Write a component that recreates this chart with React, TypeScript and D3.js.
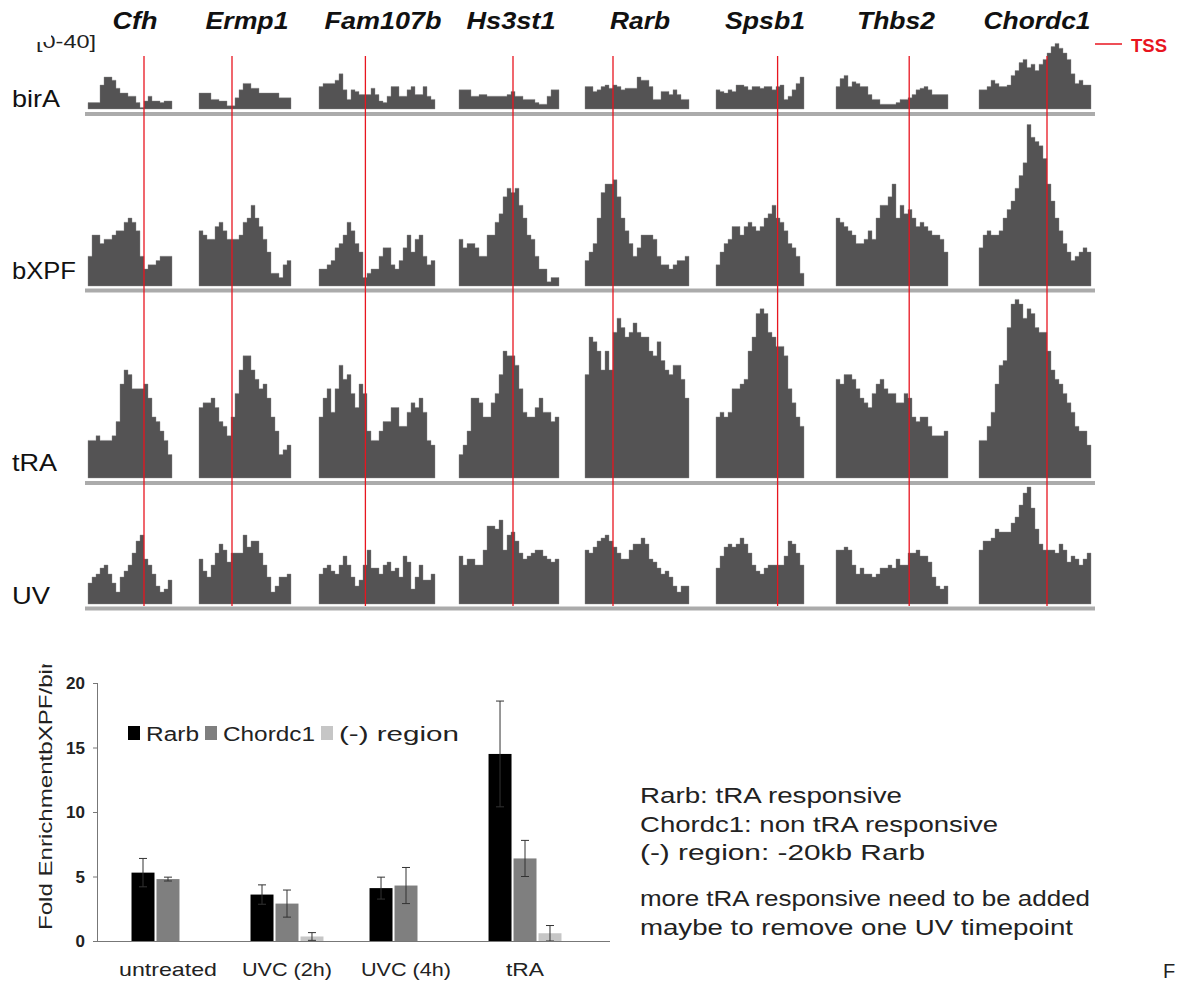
import React from "react";
import * as d3 from "d3";

// ---- genome tracks ----
const GENES = ["Cfh", "Ermp1", "Fam107b", "Hs3st1", "Rarb", "Spsb1", "Thbs2", "Chordc1"];
const TRACK_NAMES = ["birA", "bXPF", "tRA", "UV"];
// TSS position, in bins from the left edge of each gene window
const TSS_BIN = [14, 8.25, 11.6, 13.5, 7, 15.4, 18.3, 17];

// binned signal, [0-40] scale, one array per gene
const BIRA = [
  [4, 4, 4, 15, 20, 20, 18, 13, 10, 10, 8, 8, 4, 1, 5, 8, 5, 5, 4, 5, 5],
  [10, 10, 10, 6, 6, 5, 5, 2, 2, 7, 12, 16, 16, 13, 13, 10, 10, 10, 10, 10, 7, 7, 7],
  [14, 16, 16, 16, 18, 22, 12, 6, 12, 11, 9, 9, 9, 13, 9, 5, 4, 8, 14, 14, 8, 8, 12, 14, 9, 9, 14, 8, 6],
  [12, 12, 12, 8, 8, 9, 9, 8, 8, 8, 8, 8, 9, 11, 8, 8, 6, 6, 6, 4, 3, 3, 8, 12, 12],
  [14, 14, 11, 12, 14, 15, 13, 15, 14, 12, 13, 13, 13, 20, 18, 18, 14, 6, 6, 11, 11, 9, 12, 9, 6, 6],
  [12, 11, 10, 12, 11, 15, 15, 14, 12, 14, 14, 13, 14, 14, 12, 14, 15, 6, 8, 12, 16, 20],
  [14, 19, 21, 14, 17, 16, 14, 14, 9, 6, 6, 3, 3, 3, 3, 4, 6, 6, 7, 9, 12, 13, 14, 12, 9, 9, 9, 9],
  [12, 12, 14, 18, 16, 14, 14, 15, 21, 24, 29, 31, 26, 28, 24, 28, 31, 35, 39, 41, 38, 35, 31, 22, 16, 18, 15, 15],
];
const BXPF = [
  [7, 12, 12, 10, 11, 11, 12, 13, 13, 15, 16, 15, 13, 7, 4, 5, 5, 6, 7, 7, 7],
  [13, 12, 11, 11, 14, 15, 13, 11, 11, 11, 12, 15, 16, 19, 16, 14, 11, 8, 3, 3, 2, 5, 6],
  [4, 4, 5, 6, 9, 10, 12, 15, 13, 10, 8, 2, 3, 4, 4, 7, 9, 9, 5, 4, 6, 9, 12, 8, 11, 12, 7, 5, 6],
  [11, 9, 10, 10, 9, 7, 7, 12, 12, 15, 17, 21, 23, 22, 23, 19, 16, 12, 11, 7, 4, 4, 1, 2, 2],
  [6, 8, 10, 16, 22, 24, 24, 25, 21, 16, 13, 10, 7, 9, 12, 12, 12, 11, 7, 5, 5, 4, 5, 6, 6, 7],
  [5, 8, 10, 11, 14, 14, 12, 14, 15, 14, 13, 14, 16, 17, 19, 16, 15, 13, 10, 9, 7, 3],
  [16, 15, 14, 13, 12, 10, 10, 11, 13, 11, 16, 19, 19, 21, 24, 16, 19, 17, 18, 16, 14, 15, 14, 13, 12, 12, 11, 8],
  [9, 12, 13, 12, 12, 13, 16, 18, 20, 23, 26, 29, 38, 35, 34, 33, 30, 24, 20, 16, 13, 10, 8, 6, 7, 8, 9, 8],
];
const TRA = [
  [8, 8, 9, 8, 8, 8, 9, 12, 20, 23, 22, 19, 19, 19, 20, 17, 13, 12, 10, 8, 5],
  [15, 16, 16, 17, 15, 12, 11, 9, 13, 18, 23, 26, 26, 23, 21, 19, 20, 17, 13, 10, 5, 6, 7],
  [13, 17, 19, 14, 19, 24, 21, 22, 18, 15, 20, 18, 10, 8, 8, 10, 12, 12, 15, 15, 11, 11, 14, 16, 15, 17, 14, 8, 7],
  [5, 7, 10, 17, 17, 16, 13, 13, 16, 18, 22, 27, 26, 26, 24, 19, 14, 13, 13, 15, 17, 14, 14, 12, 13],
  [22, 30, 29, 27, 23, 27, 23, 31, 34, 32, 30, 31, 33, 31, 30, 30, 27, 26, 29, 25, 23, 22, 24, 24, 21, 17],
  [13, 14, 13, 14, 19, 19, 20, 21, 27, 30, 35, 36, 35, 31, 30, 28, 28, 26, 19, 16, 13, 11],
  [21, 20, 22, 22, 21, 19, 17, 16, 15, 18, 20, 21, 19, 18, 18, 16, 16, 18, 17, 13, 12, 13, 13, 11, 9, 9, 9, 10],
  [8, 8, 11, 14, 20, 24, 25, 32, 37, 38, 37, 34, 36, 35, 32, 31, 31, 27, 23, 21, 20, 18, 16, 14, 11, 10, 10, 7],
];
const UV = [
  [7, 9, 10, 12, 13, 10, 7, 4, 9, 11, 13, 17, 21, 23, 15, 13, 10, 6, 4, 5, 8],
  [15, 11, 9, 13, 17, 20, 18, 14, 17, 17, 17, 23, 19, 21, 21, 17, 13, 9, 4, 6, 9, 9, 10],
  [10, 12, 13, 11, 10, 13, 16, 13, 9, 6, 8, 13, 18, 12, 12, 10, 13, 14, 11, 12, 9, 16, 14, 5, 9, 13, 8, 8, 10],
  [16, 13, 15, 15, 13, 13, 18, 26, 26, 25, 28, 18, 23, 24, 21, 17, 15, 16, 17, 18, 18, 16, 15, 14, 15],
  [18, 17, 19, 21, 22, 23, 21, 19, 17, 15, 15, 18, 20, 20, 22, 20, 15, 14, 12, 10, 11, 9, 6, 4, 6, 6],
  [12, 16, 19, 20, 19, 20, 22, 20, 17, 13, 11, 10, 12, 13, 13, 13, 13, 16, 21, 20, 17, 13],
  [18, 18, 19, 18, 13, 10, 12, 10, 10, 9, 10, 12, 12, 13, 12, 15, 13, 13, 17, 17, 18, 16, 16, 14, 9, 6, 5, 6],
  [18, 21, 21, 22, 25, 24, 24, 24, 27, 29, 33, 37, 39, 32, 25, 20, 18, 18, 18, 17, 20, 18, 14, 16, 15, 13, 15, 17],
];
const TRACKS = [BIRA, BXPF, TRA, UV];

// ---- bar chart ----
const GROUPS = ["untreated", "UVC (2h)", "UVC (4h)", "tRA"];
const SERIES = ["Rarb", "Chordc1", "(-) region"];
const RARB = [5.3, 3.6, 4.1, 14.5];
const RARB_ERR = [1.1, 0.75, 0.85, 4.1];
const CHORDC1 = [4.8, 2.9, 4.3, 6.4];
const CHORDC1_ERR = [0.15, 1.05, 1.4, 1.4];
const NEG = [0, 0.35, 0, 0.6];
const NEG_ERR = [0, 0.3, 0, 0.6];
const Y_TICKS = [0, 5, 10, 15, 20];
const NOTES = [
  "Rarb: tRA responsive",
  "Chordc1: non tRA responsive",
  "(-) region: -20kb Rarb",
  "more tRA responsive need to be added",
  "maybe to remove one UV timepoint",
];

// layout (the figure is slightly stretched horizontally, so text gets explicit widths)
const W = 1181;
const H = 982;
const COL_X = [88, 199, 319, 459, 585, 716, 836, 979];
const BIN_W = 4;
const LABEL_X = [135, 247, 383, 511, 640, 765, 896, 1037];
const LABEL_W = [45, 83, 117, 89, 60, 80, 78, 107];
const ROWS = [
  { base: 109, h: 64, sep: 114, label: 107, lw: 48 },
  { base: 286, h: 170, sep: 290.5, label: 279, lw: 64 },
  { base: 478, h: 188, sep: 483, label: 471, lw: 45 },
  { base: 604, h: 120, sep: 608.5, label: 604, lw: 38 },
];
const NOTE_Y = [803, 832, 860, 906, 935];
const NOTE_W = [262, 358, 285, 450, 433];
const GROUP_W = [98, 90, 90, 38];
const LEGEND_X = [128, 205, 321];
const LEGEND_W = [53, 92, 120];
const FONT = "'Liberation Sans', Arial, sans-serif";
const FILL = "#545354";
const RED = "#e8151f";
const BAR_COLORS = ["#000000", "#7f7f7f", "#c6c6c6"];

const App = () => {
  const colScales = GENES.map((_, j) => {
    const n = BIRA[j].length;
    return d3.scaleLinear().domain([0, n]).range([COL_X[j], COL_X[j] + n * BIN_W]);
  });

  const tracks = TRACKS.map((rowData, r) => {
    const row = ROWS[r];
    const y = d3.scaleLinear().domain([0, 40]).range([row.base, row.base - row.h]);
    return rowData.map((vals, j) => {
      const x = colScales[j];
      const area = d3
        .area<number>()
        .x((_, i) => x(i))
        .y0(y(0))
        .y1((d) => y(d))
        .curve(d3.curveStepAfter);
      return <path key={`${r}-${j}`} d={area([...vals, vals[vals.length - 1]]) || ""} fill={FILL} stroke="#8a8a8a" strokeWidth={0.4} />;
    });
  });

  // bar chart scales
  const x0 = d3.scaleBand().domain(GROUPS).range([97, 596]).paddingInner(0.387).paddingOuter(0.29);
  const x1 = d3.scaleBand().domain(SERIES).range([0, x0.bandwidth()]).paddingInner(0.08);
  const yb = d3.scaleLinear().domain([0, 20]).range([941, 683]);
  const values = [RARB, CHORDC1, NEG];
  const errs = [RARB_ERR, CHORDC1_ERR, NEG_ERR];

  return (
    <svg width={W} height={H} style={{ position: "absolute", left: 0, top: 0, background: "#fff" }} fontFamily={FONT}>
      <defs>
        <clipPath id="ylab-clip">
          <rect x={0} y={664} width={90} height={300} />
        </clipPath>
      </defs>
      <rect width={W} height={H} fill="#fff" />

      {/* scale label */}
      <text x={36} y={48} fontSize={18} fill="#222" textLength={60} lengthAdjust="spacingAndGlyphs">[0-40]</text>
      <rect x={30} y={30} width={21} height={12} fill="#fff" />

      {/* gene names */}
      {GENES.map((g, j) => (
        <text key={g} x={LABEL_X[j] - LABEL_W[j] / 2} y={29} fontSize={24}
          fontWeight="bold" fontStyle="italic" fill="#111"
          textLength={LABEL_W[j]} lengthAdjust="spacingAndGlyphs">{g}</text>
      ))}

      {/* TSS legend */}
      <line x1={1095} x2={1122} y1={44} y2={44} stroke={RED} strokeWidth={1.5} />
      <text x={1131} y={52} fontSize={18} fontWeight="bold" fill={RED} textLength={36} lengthAdjust="spacingAndGlyphs">TSS</text>

      {/* row labels */}
      {TRACK_NAMES.map((t, r) => (
        <text key={t} x={12} y={ROWS[r].label} fontSize={24} fill="#111"
          textLength={ROWS[r].lw} lengthAdjust="spacingAndGlyphs">{t}</text>
      ))}

      {tracks}

      {/* separators */}
      {ROWS.map((row, r) => (
        <line key={r} x1={85} x2={1095} y1={row.sep} y2={row.sep} stroke="#ababab" strokeWidth={4} />
      ))}

      {/* TSS lines */}
      {GENES.map((g, j) => {
        const xx = colScales[j](TSS_BIN[j]);
        return <line key={g} x1={xx} x2={xx} y1={56} y2={606} stroke={RED} strokeWidth={1.3} />;
      })}

      {/* bar chart */}
      <g>
        {SERIES.map((s, k) =>
          GROUPS.map((g, i) => {
            const bx = (x0(g) || 0) + (x1(s) || 0);
            const v = values[k][i];
            return (
              <rect key={`${s}-${g}`} x={bx} y={yb(v)} width={x1.bandwidth()} height={yb(0) - yb(v)} fill={BAR_COLORS[k]} />
            );
          })
        )}
        {SERIES.map((s, k) =>
          GROUPS.map((g, i) => {
            const e = errs[k][i];
            if (!e) return null;
            const cx = (x0(g) || 0) + (x1(s) || 0) + x1.bandwidth() / 2;
            const v = values[k][i];
            return (
              <g key={`e-${s}-${g}`} stroke="#333" strokeWidth={1}>
                <line x1={cx} x2={cx} y1={yb(v + e)} y2={yb(Math.max(0, v - e))} />
                <line x1={cx - 4} x2={cx + 4} y1={yb(v + e)} y2={yb(v + e)} />
                <line x1={cx - 4} x2={cx + 4} y1={yb(Math.max(0, v - e))} y2={yb(Math.max(0, v - e))} />
              </g>
            );
          })
        )}
        {/* axes */}
        <line x1={97.5} x2={97.5} y1={683} y2={941} stroke="#777" />
        <line x1={97} x2={610} y1={941.5} y2={941.5} stroke="#777" />
        {Y_TICKS.map((t) => (
          <g key={t}>
            <line x1={93} x2={97} y1={yb(t) + 0.5} y2={yb(t) + 0.5} stroke="#777" />
            <text x={85} y={yb(t) + 6} fontSize={17} fontWeight="bold" textAnchor="end" fill="#222">{t}</text>
          </g>
        ))}
        {GROUPS.map((g, i) => {
          const cx = (x0(g) || 0) + x0.bandwidth() / 2;
          return (
            <text key={g} x={cx - GROUP_W[i] / 2} y={976} fontSize={19} fill="#222"
              textLength={GROUP_W[i]} lengthAdjust="spacingAndGlyphs">{g}</text>
          );
        })}
        <g clipPath="url(#ylab-clip)">
          <text transform="translate(52,930) rotate(-90)" fontSize={19} fill="#222"
            textLength={285} lengthAdjust="spacingAndGlyphs">Fold EnrichmentbXPF/birA</text>
        </g>
        {/* legend */}
        {SERIES.map((s, k) => (
          <g key={s}>
            <rect x={LEGEND_X[k]} y={726} width={12} height={14} fill={BAR_COLORS[k]} />
            <text x={LEGEND_X[k] + 18} y={741} fontSize={20} fill="#222"
              textLength={LEGEND_W[k]} lengthAdjust="spacingAndGlyphs">{s}</text>
          </g>
        ))}
      </g>

      {/* notes */}
      {NOTES.map((t, i) => (
        <text key={t} x={640} y={NOTE_Y[i]} fontSize={22} fill="#222"
          textLength={NOTE_W[i]} lengthAdjust="spacingAndGlyphs">{t}</text>
      ))}
      <text x={1163} y={978} fontSize={20} fill="#222">F</text>
    </svg>
  );
};

export default App;
